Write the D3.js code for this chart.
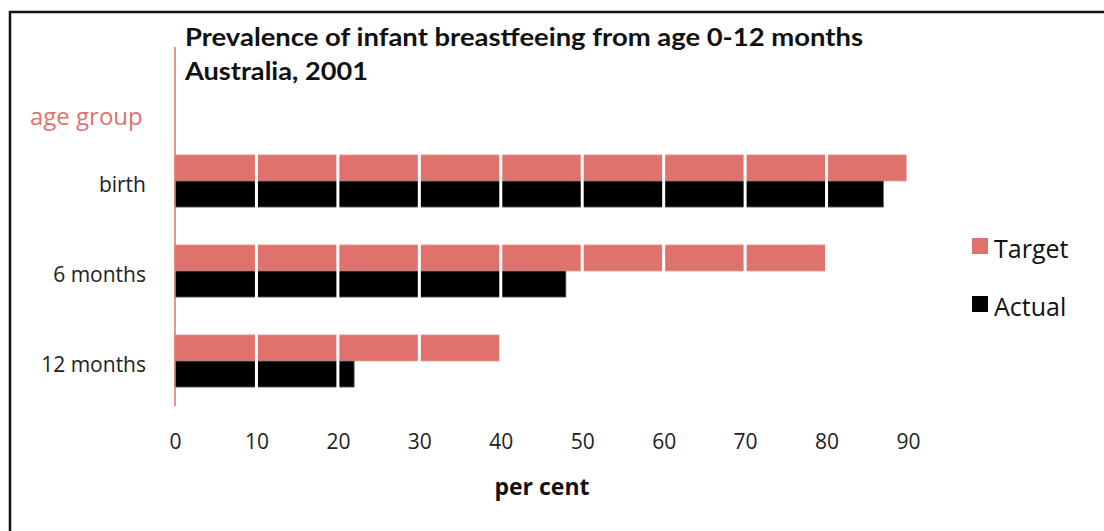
<!DOCTYPE html>
<html>
<head>
<meta charset="utf-8">
<script src="https://cdn.jsdelivr.net/npm/d3@7"></script>
<style>
  body { margin: 0; background: #fff; }
  text { font-family: "Open Sans", sans-serif; }
</style>
</head>
<body>
<svg id="chart" width="1104" height="531"></svg>
<script>
const categories = ["birth", "6 months", "12 months"];
const target = [90, 80, 40];
const actual = [87, 48, 22];
const series = ["Target", "Actual"];
const xTicks = [0, 10, 20, 30, 40, 50, 60, 70, 80, 90];

const pink = "#e0726e";
const svg = d3.select("#chart");

// frame
svg.append("rect")
  .attr("x", 10).attr("y", 12)
  .attr("width", 1110).attr("height", 540)
  .attr("fill", "none").attr("stroke", "#111").attr("stroke-width", 2.5);

const x = d3.scaleLinear().domain([0, 90]).range([175, 908]);
const y = d3.scaleBand().domain(categories).range([136, 406]).paddingInner(0.42).paddingOuter(0.21);
const ySub = d3.scaleBand().domain(series).range([0, y.bandwidth()]);

const rows = categories.map((c, i) => ({ cat: c, Target: target[i], Actual: actual[i] }));

const g = svg.append("g");
rows.forEach(r => {
  series.forEach(s => {
    g.append("rect")
      .attr("x", x(0))
      .attr("y", y(r.cat) + ySub(s))
      .attr("width", x(r[s]) - x(0))
      .attr("height", ySub.bandwidth())
      .attr("fill", s === "Target" ? pink : "#000")
      .attr("stroke", s === "Target" ? "#eaa09d" : "#777")
      .attr("stroke-width", 0.8);
  });
});

// white gridlines over the bars
g.selectAll(".grid")
  .data(xTicks.filter(d => d > 0))
  .join("line")
  .attr("x1", d => x(d)).attr("x2", d => x(d))
  .attr("y1", 47).attr("y2", 406)
  .attr("stroke", "#fff").attr("stroke-width", 3);

// y axis line
svg.append("line")
  .attr("x1", x(0)).attr("x2", x(0))
  .attr("y1", 47).attr("y2", 406)
  .attr("stroke", pink).attr("stroke-width", 1.5);

// x axis labels
const xAxis = d3.axisBottom(x).tickValues(xTicks).tickSize(0).tickPadding(0);
svg.append("g")
  .attr("transform", "translate(0,434)")
  .call(xAxis)
  .call(a => a.select(".domain").remove())
  .selectAll("text")
  .attr("dy", "0.71em")
  .style("font-family", "'Open Sans', sans-serif")
  .style("font-size", "21px")
  .attr("fill", "#222");

// y axis labels
const yAxis = d3.axisLeft(y).tickSize(0).tickPadding(0);
svg.append("g")
  .attr("transform", "translate(146,3)")
  .call(yAxis)
  .call(a => a.select(".domain").remove())
  .selectAll("text")
  .attr("dy", "0.36em")
  .style("font-family", "'Open Sans', sans-serif")
  .style("font-size", "21px")
  .attr("fill", "#222");

// titles
svg.append("text")
  .attr("x", 185).attr("y", 46)
  .style("font-family", "Lato, sans-serif")
  .attr("font-size", 24).attr("font-weight", "bold").attr("fill", "#111")
  .attr("textLength", 678).attr("lengthAdjust", "spacingAndGlyphs")
  .text("Prevalence of infant breastfeeing from age 0-12 months");
svg.append("text")
  .attr("x", 185).attr("y", 80)
  .style("font-family", "Lato, sans-serif")
  .attr("font-size", 24).attr("font-weight", "bold").attr("fill", "#111")
  .attr("textLength", 183).attr("lengthAdjust", "spacingAndGlyphs")
  .text("Australia, 2001");

svg.append("text")
  .attr("x", 30).attr("y", 125)
  .attr("font-size", 24).attr("fill", pink)
  .text("age group");

svg.append("text")
  .attr("x", 542).attr("y", 495)
  .attr("text-anchor", "middle")
  .attr("font-size", 23).attr("font-weight", "bold").attr("fill", "#111")
  .text("per cent");

// legend
const legend = svg.append("g");
series.forEach((s, i) => {
  const ly = 238 + i * 58;
  legend.append("rect")
    .attr("x", 972).attr("y", ly)
    .attr("width", 16).attr("height", 16)
    .attr("fill", s === "Target" ? pink : "#000");
  legend.append("text")
    .attr("x", 994).attr("y", ly + 20)
    .attr("font-size", 25).attr("fill", "#111")
    .text(s);
});
</script>
</body>
</html>
